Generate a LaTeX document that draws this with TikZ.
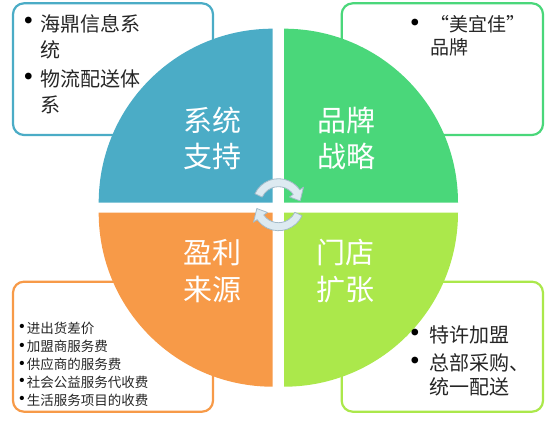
\documentclass[tikz,border=0pt]{standalone}
\usepackage{fontspec}
\newfontfamily\cjk{Noto Sans CJK SC}
\definecolor{qblue}{HTML}{4BACC6}
\definecolor{qgreen}{HTML}{4AD77A}
\definecolor{qorange}{HTML}{F79A48}
\definecolor{qlime}{HTML}{ABE84B}
\definecolor{txtdark}{HTML}{262626}
\definecolor{arrfill}{HTML}{DDEAF1}
\definecolor{arredge}{HTML}{A3BBC9}
\begin{document}
\begin{tikzpicture}[x=1pt,y=1pt,
  infobox/.style={draw, line width=2.2pt, fill=white, rounded corners=11pt},
  quadtext/.style={text=white, inner sep=0pt, font=\cjk\fontsize{29}{36}\selectfont,
     text height=25.5pt, text depth=3.5pt},
  bigline/.style={text=txtdark, inner sep=0pt, anchor=west, font=\cjk\fontsize{20}{25}\selectfont,
     text height=17.6pt, text depth=2.4pt},
  midline/.style={text=txtdark, inner sep=0pt, anchor=west, font=\cjk\fontsize{19}{24}\selectfont,
     text height=16.7pt, text depth=2.3pt},
  smallline/.style={text=txtdark, inner sep=0pt, anchor=west, font=\cjk\fontsize{13.5}{18}\selectfont,
     text height=11.9pt, text depth=1.6pt},
  bigbullet/.style={text=black, inner sep=0pt, font=\fontsize{30}{34}\selectfont},
  smallbullet/.style={text=black, inner sep=0pt, font=\fontsize{19}{22}\selectfont},
  rotarrow/.style={fill=arrfill, draw=arredge, line width=0.8pt, line join=round}
]
\useasboundingbox (0,0) rectangle (554,423);

% side boxes
\draw[infobox, draw=qblue]   (13,288)   rectangle (213,419.7);
\draw[infobox, draw=qgreen]  (341.7,288) rectangle (543,419.7);
\draw[infobox, draw=qorange] (13,11.3)  rectangle (213,141.3);
\draw[infobox, draw=qlime]   (341.7,11.3) rectangle (543,141.3);

% quadrants
\fill[qblue]   (272.7,220.3) -- ++(-174,0) arc[start angle=180, end angle=90, radius=174] -- cycle;
\fill[qgreen]  (284,220.3) -- ++(0,174) arc[start angle=90, end angle=0, radius=174] -- cycle;
\fill[qorange] (272.7,210.3) -- ++(-174,0) arc[start angle=180, end angle=270, radius=174] -- cycle;
\fill[qlime]   (284,210.3) -- ++(174,0) arc[start angle=0, end angle=-90, radius=174] -- cycle;

% quadrant labels
\node[quadtext] (q1a) at (212.5,302) {系统};
\node[quadtext] (q1b) at (212.5,266) {支持};
\node[quadtext] (q2a) at (346,302) {品牌};
\node[quadtext] (q2b) at (346,266) {战略};
\node[quadtext] (q3a) at (212,170) {盈利};
\node[quadtext] (q3b) at (212,133) {来源};
\node[quadtext] (q4a) at (345,170) {门店};
\node[quadtext] (q4b) at (345,133) {扩张};

% rotation arrows
\begin{scope}[shift={(278.5,218.3)}]
\draw[rotarrow] (155:26) arc[start angle=155, end angle=35, radius=26]
   -- (35:30.5) -- (10:22) -- (35:13.5) -- (35:18)
   arc[start angle=35, end angle=155, radius=18] -- cycle;
\draw[rotarrow] (-25:26) arc[start angle=-25, end angle=-145, radius=26]
   -- (-145:30.5) -- (-170:22) -- (-145:13.5) -- (-145:18)
   arc[start angle=-145, end angle=-25, radius=18] -- cycle;
\end{scope}

% top-left box text
\node[bigbullet] (b11) at (28.5,400) {\textbullet};
\node[bigline] (t11) at (40,399.5) {海鼎信息系};
\node[bigline] (t12) at (40,373) {统};
\node[bigbullet] (b12) at (28.5,344.5) {\textbullet};
\node[bigline] (t13) at (40,344) {物流配送体};
\node[bigline] (t14) at (40,318) {系};

% top-right box text
\node[bigbullet] (b21) at (415,398.5) {\textbullet};
\node[midline] (t21) at (430,398.5) {\makebox[1em][r]{“}美宜佳\makebox[1em][l]{”}};
\node[midline] (t22) at (430,375.5) {品牌};

% bottom-left box text
\node[smallbullet] (b31) at (22,95) {\textbullet};
\node[smallline] (t31) at (26.7,95) {进出货差价};
\node[smallbullet] (b32) at (22,76.5) {\textbullet};
\node[smallline] (t32) at (26.7,76.5) {加盟商服务费};
\node[smallbullet] (b33) at (22,58.5) {\textbullet};
\node[smallline] (t33) at (26.7,58.5) {供应商的服务费};
\node[smallbullet] (b34) at (22,41) {\textbullet};
\node[smallline] (t34) at (26.7,41) {社会公益服务代收费};
\node[smallbullet] (b35) at (22,23) {\textbullet};
\node[smallline] (t35) at (26.7,23) {生活服务项目的收费};

% bottom-right box text
\node[bigbullet] (b41) at (415,88) {\textbullet};
\node[bigline] (t41) at (429,88) {特许加盟};
\node[bigbullet] (b42) at (415,60.5) {\textbullet};
\node[bigline] (t42) at (429,60) {总部采购、};
\node[bigline] (t43) at (429,36.5) {统一配送};
\end{tikzpicture}
\end{document}
